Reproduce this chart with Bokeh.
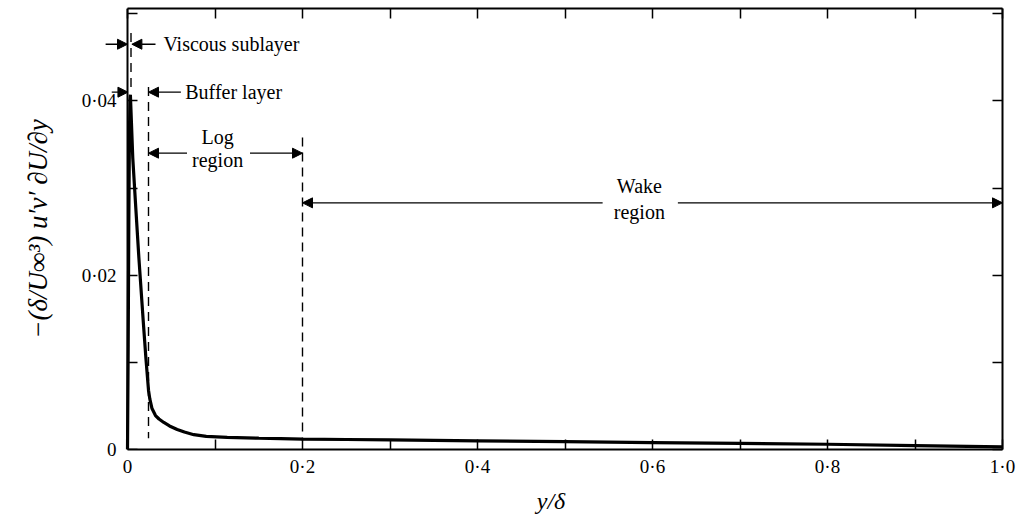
from bokeh.plotting import figure
from bokeh.models import (LinearAxis, FixedTicker, Range1d, Arrow, NormalHead, Label,
                          ColumnDataSource)
from bokeh.embed import file_html
from bokeh.resources import INLINE

# ---- data ----
y_over_delta = [0.0, 0.0008, 0.0015, 0.0022, 0.0028, 0.0033, 0.0045, 0.006, 0.009,
                0.013, 0.018, 0.021, 0.024, 0.0255, 0.028, 0.032, 0.036, 0.0415,
                0.048, 0.0568, 0.065, 0.0758, 0.09, 0.114, 0.15, 0.2, 0.25, 0.3,
                0.4, 0.5, 0.6, 0.7, 0.8, 0.9, 1.0]
production = [0.0, 0.012, 0.026, 0.036, 0.0402, 0.0407, 0.0375, 0.0335, 0.0285,
              0.022, 0.0147, 0.0105, 0.0068, 0.0058, 0.0047, 0.0039, 0.0035, 0.0031,
              0.0027, 0.0023, 0.0020, 0.0017, 0.0015, 0.0014, 0.0013, 0.0012, 0.00115, 0.0011,
              0.001, 0.0009, 0.0008, 0.0007, 0.0006, 0.00045, 0.0003]

# region boundaries (y/delta)
viscous_edge = 0.004
buffer_edge = 0.024
log_edge = 0.2
wake_edge = 1.0

x_tick_values = [0, 0.1, 0.2, 0.3, 0.4, 0.5, 0.6, 0.7, 0.8, 0.9, 1.0]
x_tick_labels = ["0", "", "0·2", "", "0·4", "", "0·6", "", "0·8", "", "1·0"]
y_tick_values = [0, 0.01, 0.02, 0.03, 0.04, 0.05]
y_tick_labels = ["0", "", "0·02", "", "0·04", ""]

SERIF = "Liberation Serif"
X_MIN = -0.032

p = figure(frame_width=903, frame_height=441, output_backend="svg", toolbar_location=None,
           x_range=Range1d(X_MIN, 1.0), y_range=Range1d(0, 0.0506),
           x_axis_type=None, y_axis_type=None,
           min_border_left=99, min_border_right=15, min_border_top=8, min_border_bottom=66)
p.background_fill_color = "white"
p.border_fill_color = "white"
p.outline_line_color = None
p.xgrid.visible = False
p.ygrid.visible = False


def make_axis(ticks, labels, show_labels):
    ax = LinearAxis(ticker=FixedTicker(ticks=ticks))
    ax.major_tick_in = 10
    ax.major_tick_out = 0
    ax.minor_tick_in = 0
    ax.minor_tick_out = 0
    ax.major_tick_line_color = "black"
    ax.major_tick_line_width = 1.5
    ax.axis_line_color = "black"
    ax.axis_line_width = 2
    if show_labels:
        ax.major_label_overrides = {t: l for t, l in zip(ticks, labels)}
        ax.major_label_text_font = SERIF
        ax.major_label_text_font_size = "19px"
        ax.major_label_text_color = "black"
    else:
        ax.major_label_overrides = {t: "" for t in ticks}
        ax.major_label_text_font_size = "1px"
        ax.major_label_standoff = 0
    return ax


xb = make_axis(x_tick_values, x_tick_labels, True)
xb.bounds = (0, 1.0)
xb.axis_label = "y/δ"
xb.axis_label_text_font = SERIF
xb.axis_label_text_font_style = "italic"
xb.axis_label_text_font_size = "24px"
xb.axis_label_text_color = "black"
xb.major_label_standoff = 6
xb.axis_label_standoff = 8
p.add_layout(xb, "below")

# labels of the y axis (at the frame edge, shifted right onto y/delta = 0)
yl = make_axis(y_tick_values, y_tick_labels, True)
yl.axis_line_color = None
yl.major_tick_line_color = None
yl.major_label_standoff = -17
yl.axis_label = "−(δ/U∞³) u′v′ ∂U/∂y"
yl.axis_label_text_font = SERIF
yl.axis_label_text_font_style = "italic"
yl.axis_label_text_font_size = "27px"
yl.axis_label_text_color = "black"
yl.axis_label_standoff = 26
p.add_layout(yl, "left")

# y axis line and ticks at y/delta = 0
yfix = make_axis(y_tick_values, y_tick_labels, False)
yfix.fixed_location = 0
yfix.bounds = (0, 0.0506)
p.add_layout(yfix, "left")

xt = make_axis(x_tick_values, x_tick_labels, False)
xt.bounds = (0, 1.0)
p.add_layout(xt, "above")
yr = make_axis(y_tick_values, y_tick_labels, False)
p.add_layout(yr, "right")

# curve
p.line(y_over_delta, production, line_color="black", line_width=3.2)

# dashed region boundaries
seg = ColumnDataSource(dict(
    x=[viscous_edge, buffer_edge, log_edge],
    y0=[0.0478, 0.0416, 0.0358],
    y1=[0.0415, 0.0013, 0.0010],
))
p.segment(x0="x", y0="y0", x1="x", y1="y1", source=seg, line_color="black",
          line_width=1.4, line_dash="9 6")


def arrow(xs, xe, y):
    p.add_layout(Arrow(x_start=xs, y_start=y, x_end=xe, y_end=y,
                       line_color="black", line_width=1.3,
                       end=NormalHead(size=10, fill_color="black", line_color="black")))


def label(x, y, text, align="left"):
    p.add_layout(Label(x=x, y=y, text=text, text_font=SERIF, text_font_size="20px",
                       text_color="black", text_align=align, text_baseline="middle"))


# viscous sublayer
y_v = 0.0465
arrow(-0.025, 0.0, y_v)
arrow(0.032, viscous_edge + 0.001, y_v)
label(0.041, y_v, "Viscous sublayer")

# buffer layer
y_b = 0.0410
arrow(-0.018, 0.0005, y_b)
arrow(0.061, buffer_edge, y_b)
label(0.066, y_b, "Buffer layer")

# log region
y_l = 0.0340
arrow(0.068, buffer_edge, y_l)
arrow(0.14, log_edge, y_l)
label(0.103, 0.0358, "Log", "center")
label(0.103, 0.0332, "region", "center")

# wake region
y_w = 0.0283
arrow(0.543, log_edge, y_w)
arrow(0.629, wake_edge, y_w)
label(0.585, 0.0302, "Wake", "center")
label(0.585, 0.0272, "region", "center")

open("out.html", "w").write(file_html(p, INLINE))
